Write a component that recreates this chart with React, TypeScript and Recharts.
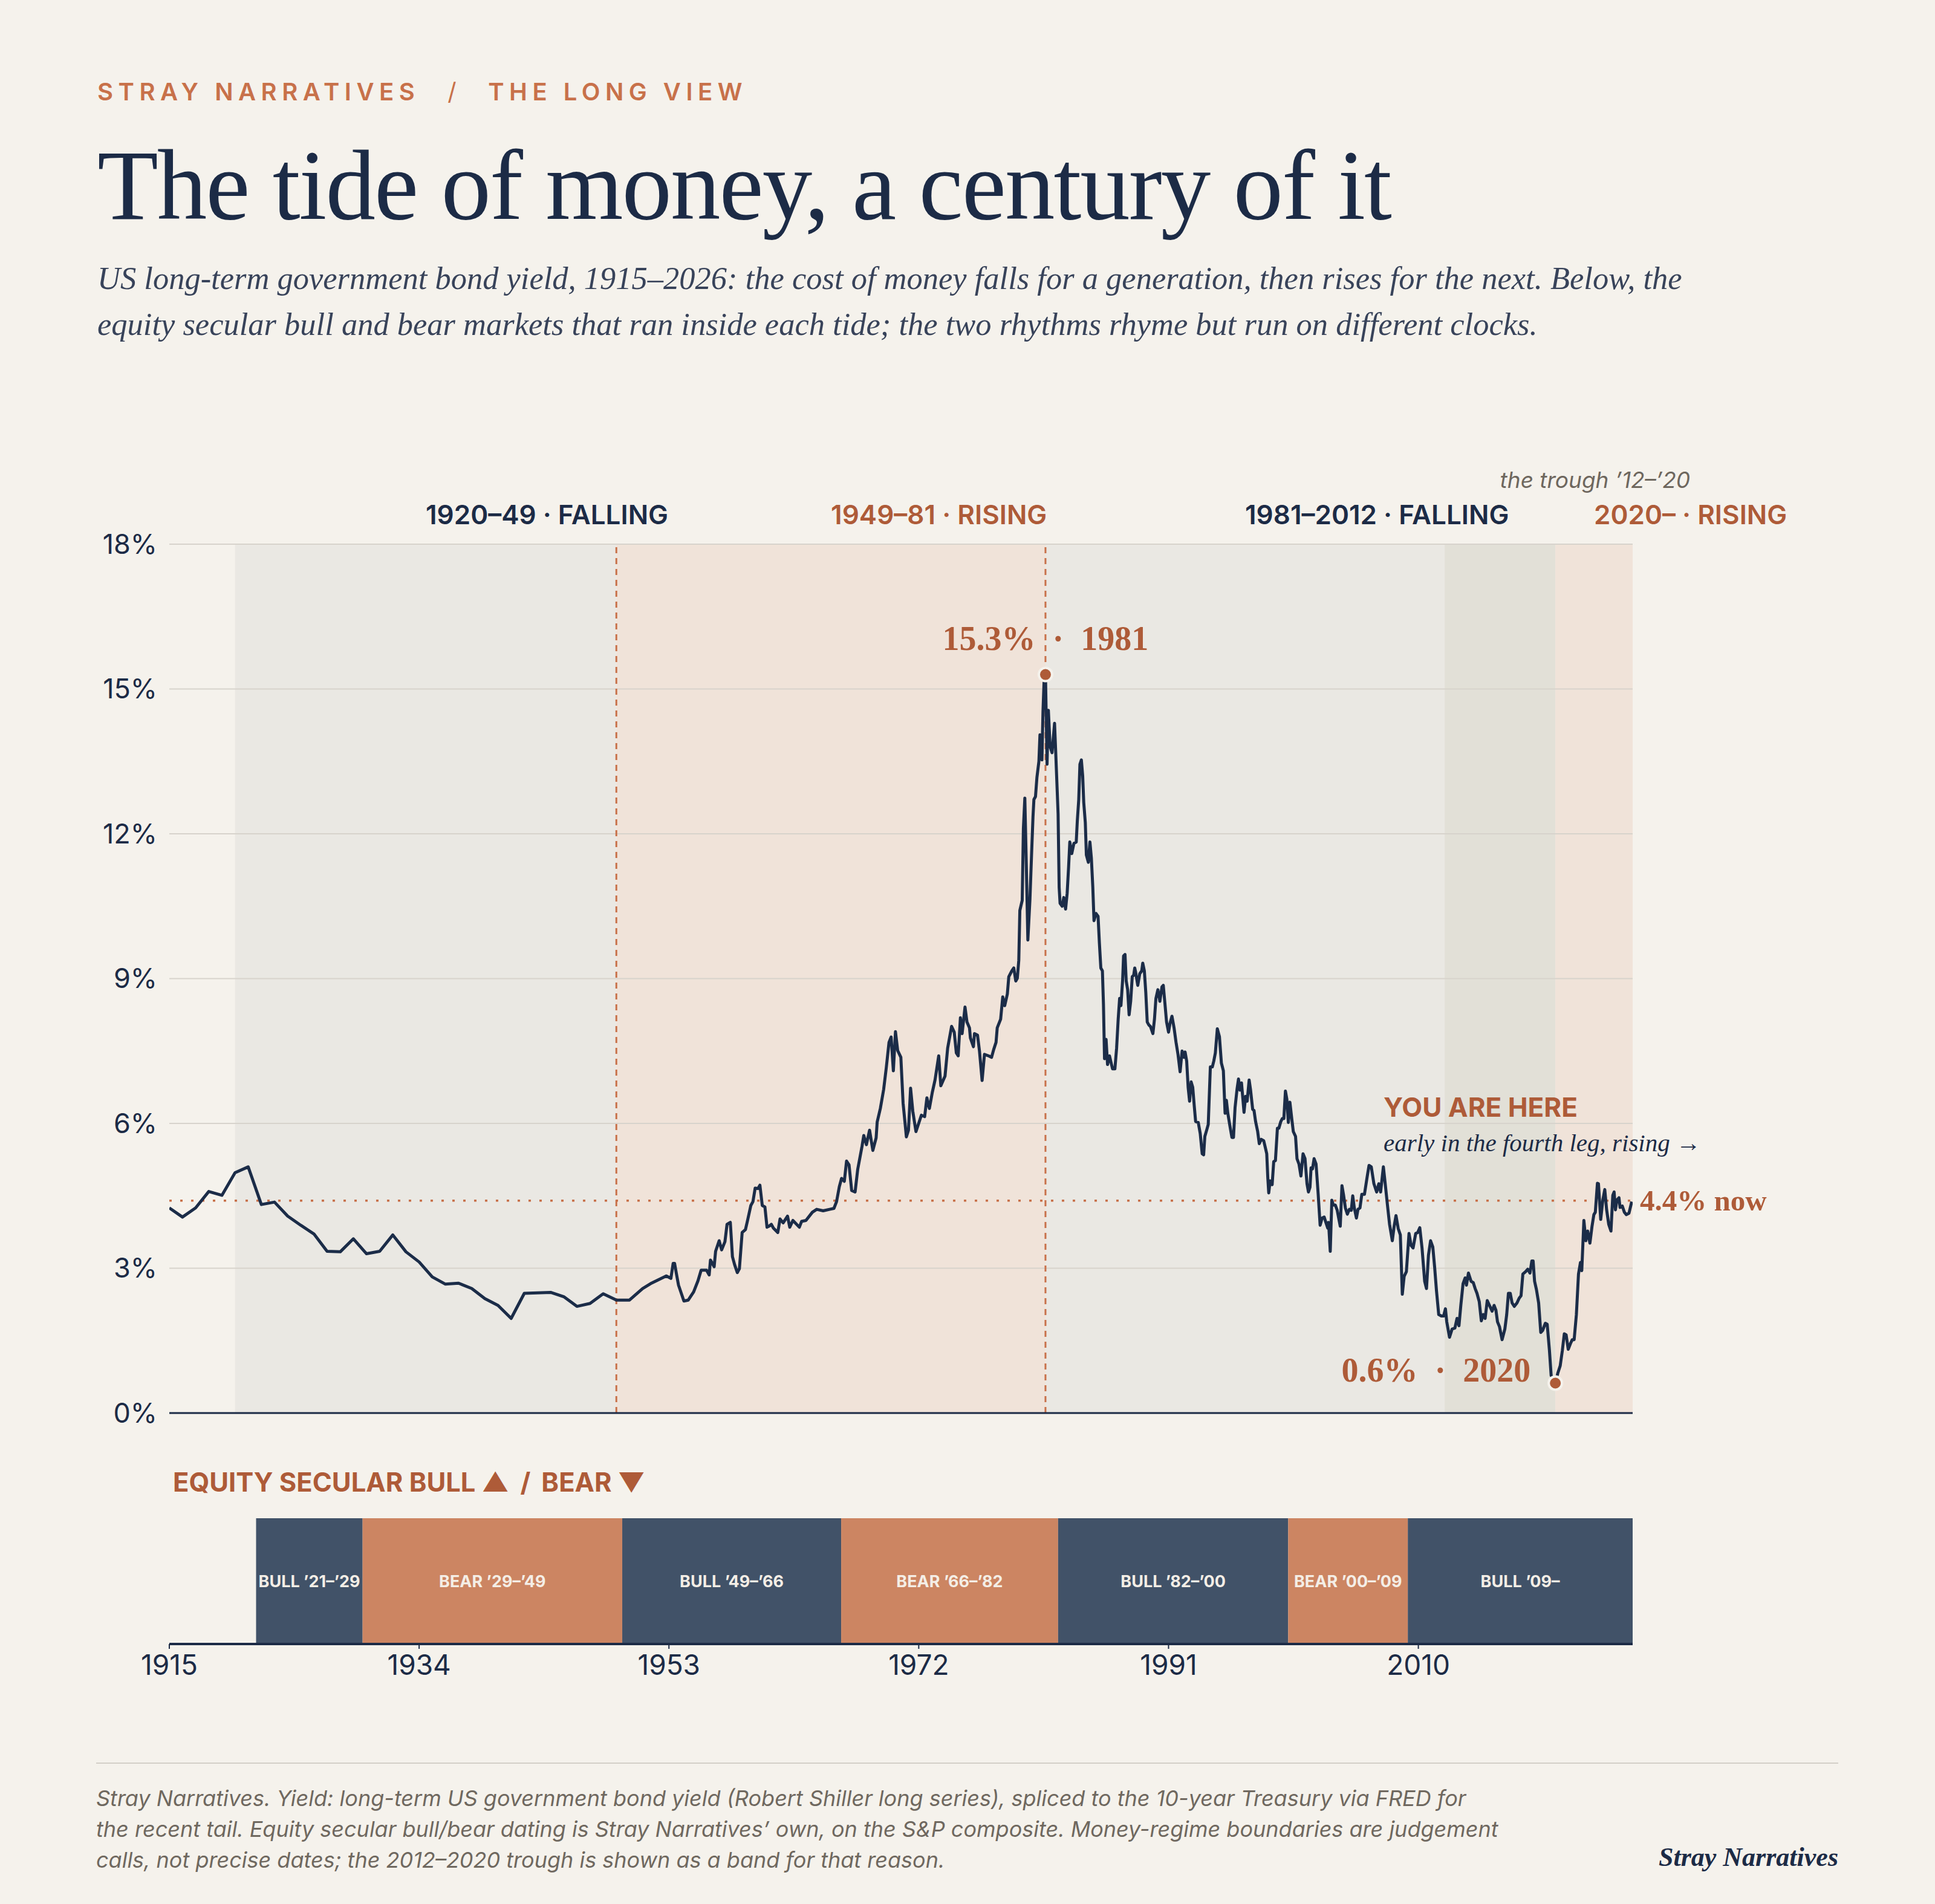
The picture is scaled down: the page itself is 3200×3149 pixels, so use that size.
import React from 'react';
import {
  ComposedChart,
  Bar,
  Line,
  XAxis,
  YAxis,
  ReferenceArea,
  ReferenceLine,
  ReferenceDot,
} from 'recharts';

// long-term US government bond yield, %
const yield1915to1952: [number, number][] = [
  [1915, 4.25], [1916, 4.06], [1917, 4.25], [1918, 4.59], [1919, 4.51], [1920, 4.98],
  [1921, 5.1], [1922, 4.32], [1923, 4.37], [1924, 4.08], [1925, 3.89], [1926, 3.71],
  [1927, 3.35], [1928, 3.34], [1929, 3.61], [1930, 3.3], [1931, 3.35], [1932, 3.69],
  [1933, 3.34], [1934, 3.13], [1935, 2.82], [1936, 2.67], [1937, 2.69], [1938, 2.58],
  [1939, 2.37], [1940, 2.23], [1941, 1.96], [1942, 2.48], [1943, 2.49], [1944, 2.5],
  [1945, 2.41], [1946, 2.21], [1947, 2.27], [1948, 2.47], [1949, 2.34], [1950, 2.34],
  [1951, 2.58], [1951.6, 2.68], [1952.8, 2.84],
];

const yield1953to1973: [number, number][] = [
  [1953.15, 2.79], [1953.32, 3.1], [1953.43, 3.1], [1953.56, 2.9], [1953.73, 2.65], [1954.14, 2.32],
  [1954.47, 2.34], [1954.88, 2.51], [1955.21, 2.74], [1955.45, 2.96], [1955.86, 2.96], [1956.06, 2.86],
  [1956.16, 3.17], [1956.44, 3.03], [1956.55, 3.35], [1956.82, 3.57], [1957.01, 3.38], [1957.26, 3.55],
  [1957.42, 3.91], [1957.67, 3.95], [1957.83, 3.24], [1958.0, 3.07], [1958.2, 2.91], [1958.36, 2.99],
  [1958.57, 3.74], [1958.82, 3.8], [1958.98, 3.99], [1959.23, 4.3], [1959.39, 4.38], [1959.56, 4.66],
  [1959.77, 4.65], [1959.92, 4.72], [1960.1, 4.3], [1960.3, 4.27], [1960.46, 3.85], [1960.66, 3.88],
  [1960.79, 3.91], [1960.95, 3.83], [1961.28, 3.74], [1961.45, 4.02], [1961.69, 3.94], [1962.02, 4.08],
  [1962.19, 3.85], [1962.43, 3.99], [1962.92, 3.85], [1963.09, 3.97], [1963.42, 3.99], [1963.91, 4.16],
  [1964.24, 4.22], [1964.73, 4.19], [1965.22, 4.22], [1965.55, 4.24], [1965.75, 4.38], [1965.96, 4.69],
  [1966.13, 4.86], [1966.34, 4.8], [1966.51, 5.22], [1966.7, 5.14], [1966.9, 4.61], [1967.16, 4.58],
  [1967.36, 5.05], [1967.69, 5.53], [1967.82, 5.75], [1968.02, 5.56], [1968.26, 5.86], [1968.51, 5.44],
  [1968.76, 5.7], [1968.84, 6.03], [1969.08, 6.31], [1969.33, 6.7], [1969.53, 7.15], [1969.74, 7.68],
  [1969.9, 7.79], [1970.07, 7.09], [1970.23, 7.9], [1970.4, 7.51], [1970.64, 7.37], [1970.81, 6.42],
  [1971.06, 5.72], [1971.22, 5.86], [1971.38, 6.73], [1971.55, 6.25], [1971.79, 5.83], [1972.2, 6.17],
  [1972.45, 6.14], [1972.62, 6.53], [1972.81, 6.31], [1973.03, 6.64], [1973.24, 6.9], [1973.52, 7.4],
  [1973.68, 6.78],
];

const yield1974to1992: [number, number][] = [
  [1974.0, 6.98], [1974.2, 7.56], [1974.5, 8.01], [1974.7, 7.89], [1974.86, 7.46], [1975.0, 7.4],
  [1975.17, 8.19], [1975.3, 7.86], [1975.52, 8.41], [1975.67, 8.1], [1975.86, 7.98], [1975.93, 7.77],
  [1976.16, 7.59], [1976.24, 7.86], [1976.47, 7.83], [1976.62, 7.5], [1976.82, 6.89], [1977.0, 7.43],
  [1977.31, 7.4], [1977.54, 7.37], [1977.7, 7.53], [1977.88, 7.68], [1977.97, 7.98], [1978.23, 8.16],
  [1978.39, 8.62], [1978.54, 8.44], [1978.74, 8.68], [1978.85, 9.04], [1979.08, 9.16], [1979.23, 9.22],
  [1979.38, 8.95], [1979.5, 9.01], [1979.61, 9.38], [1979.69, 10.41], [1979.87, 10.62], [1979.96, 12.11],
  [1980.07, 12.74], [1980.18, 11.38], [1980.3, 9.8], [1980.46, 10.65], [1980.58, 11.56], [1980.69, 12.35],
  [1980.76, 12.71], [1980.88, 12.77], [1980.99, 13.17], [1981.14, 13.5], [1981.22, 14.05], [1981.37, 13.53],
  [1981.45, 14.53], [1981.53, 15.14], [1981.64, 15.3], [1981.76, 13.44], [1981.86, 14.56], [1981.99, 13.81],
  [1982.14, 13.68], [1982.33, 14.29], [1982.42, 13.68], [1982.6, 12.41], [1982.68, 10.89], [1982.75, 10.56],
  [1982.91, 10.5], [1983.03, 10.68], [1983.17, 10.44], [1983.29, 10.77], [1983.4, 11.32], [1983.49, 11.83],
  [1983.64, 11.59], [1983.8, 11.8], [1983.98, 11.83], [1984.06, 12.26], [1984.17, 12.71], [1984.26, 13.44],
  [1984.37, 13.53], [1984.47, 13.2], [1984.55, 12.65], [1984.67, 12.23], [1984.75, 11.56], [1984.9, 11.41],
  [1985.02, 11.83], [1985.13, 11.5], [1985.24, 10.89], [1985.33, 10.2], [1985.48, 10.35], [1985.64, 10.29],
  [1985.74, 9.74], [1985.85, 9.22], [1985.97, 9.16], [1986.05, 8.47], [1986.13, 7.34], [1986.25, 7.74],
  [1986.36, 7.22], [1986.51, 7.4], [1986.74, 7.13], [1986.92, 7.13], [1987.05, 7.56], [1987.17, 8.16],
  [1987.28, 8.59], [1987.38, 8.44], [1987.51, 8.98], [1987.58, 9.47], [1987.69, 9.5], [1987.78, 8.95],
  [1987.89, 8.77], [1988.0, 8.25], [1988.12, 8.53], [1988.24, 9.04], [1988.35, 9.07], [1988.43, 9.22],
  [1988.5, 9.13], [1988.66, 8.86], [1988.81, 9.1], [1988.96, 9.16], [1989.04, 9.32], [1989.16, 9.16],
  [1989.27, 8.71], [1989.38, 8.1], [1989.5, 8.04], [1989.62, 8.01], [1989.81, 7.86], [1989.93, 8.16],
  [1990.04, 8.59], [1990.19, 8.77], [1990.34, 8.53], [1990.5, 8.83], [1990.6, 8.86], [1990.73, 8.47],
  [1990.85, 8.1], [1991.0, 7.89], [1991.11, 8.07], [1991.26, 8.22], [1991.42, 7.98], [1991.57, 7.68],
  [1991.72, 7.43], [1991.88, 7.07], [1992.03, 7.5], [1992.18, 7.37],
];

const yield1992to2005: [number, number][] = [
  [1992.26, 7.48], [1992.38, 7.29], [1992.49, 6.75], [1992.6, 6.46], [1992.72, 6.86], [1992.84, 6.75],
  [1992.95, 6.38], [1993.06, 6.04], [1993.26, 6.02], [1993.41, 5.79], [1993.56, 5.37], [1993.67, 5.35],
  [1993.76, 5.73], [1993.91, 5.87], [1994.02, 5.98], [1994.18, 7.17], [1994.33, 7.17], [1994.44, 7.29],
  [1994.56, 7.46], [1994.71, 7.96], [1994.87, 7.8], [1995.02, 7.25], [1995.17, 7.09], [1995.3, 6.21],
  [1995.4, 6.48], [1995.51, 6.21], [1995.66, 5.96], [1995.82, 5.71], [1995.94, 5.71], [1996.06, 6.33],
  [1996.21, 6.71], [1996.32, 6.92], [1996.43, 6.69], [1996.55, 6.84], [1996.74, 6.23], [1996.86, 6.56],
  [1996.98, 6.46], [1997.13, 6.9], [1997.24, 6.69], [1997.4, 6.29], [1997.5, 6.27], [1997.62, 6.04],
  [1997.78, 5.83], [1997.9, 5.58], [1998.05, 5.67], [1998.24, 5.64], [1998.36, 5.5], [1998.47, 5.37],
  [1998.55, 4.87], [1998.62, 4.56], [1998.73, 4.81], [1998.88, 4.73], [1999.0, 5.21], [1999.13, 5.23],
  [1999.28, 5.9], [1999.39, 5.9], [1999.54, 6.04], [1999.65, 6.1], [1999.77, 6.1], [1999.89, 6.67],
  [2000.0, 6.5], [2000.11, 6.02], [2000.23, 6.44], [2000.38, 6.08], [2000.49, 5.83], [2000.66, 5.73],
  [2000.77, 5.27], [2000.92, 5.16], [2001.07, 4.91], [2001.23, 5.37], [2001.38, 5.27], [2001.53, 4.75],
  [2001.64, 4.58], [2001.76, 4.68], [2001.84, 5.08], [2001.95, 5.06], [2002.07, 5.27], [2002.22, 5.16],
  [2002.38, 4.54], [2002.53, 3.89], [2002.68, 4.04], [2002.84, 4.06], [2002.99, 3.93], [2003.11, 3.83],
  [2003.17, 3.95], [2003.3, 3.35], [2003.42, 4.41], [2003.53, 4.31], [2003.68, 4.31], [2003.83, 4.2],
  [2003.94, 4.04], [2004.06, 3.87], [2004.19, 4.71], [2004.31, 4.52], [2004.45, 4.25], [2004.6, 4.12],
  [2004.75, 4.22], [2004.9, 4.2], [2005.01, 4.5], [2005.13, 4.25], [2005.29, 4.04], [2005.41, 4.22],
  [2005.56, 4.25],
];

const yield2005to2026: [number, number][] = [
  [2005.7, 4.53], [2005.9, 4.53], [2006.11, 4.9], [2006.25, 5.13], [2006.42, 5.1], [2006.62, 4.75],
  [2006.83, 4.58], [2006.99, 4.75], [2007.13, 4.58], [2007.34, 5.1], [2007.48, 4.75], [2007.65, 4.31],
  [2007.81, 3.91], [2008.02, 3.57], [2008.16, 3.87], [2008.3, 4.09], [2008.47, 3.82], [2008.63, 3.69],
  [2008.78, 2.46], [2008.92, 2.83], [2009.09, 2.93], [2009.29, 3.72], [2009.45, 3.47], [2009.6, 3.42],
  [2009.8, 3.72], [2009.95, 3.74], [2010.11, 3.84], [2010.28, 3.42], [2010.48, 2.73], [2010.62, 2.58],
  [2010.77, 3.27], [2010.93, 3.57], [2011.1, 3.44], [2011.24, 3.02], [2011.38, 2.53], [2011.55, 2.04],
  [2011.75, 2.01], [2011.92, 2.01], [2012.06, 2.16], [2012.16, 1.89], [2012.37, 1.57], [2012.57, 1.74],
  [2012.78, 1.76], [2012.94, 1.96], [2013.09, 1.81], [2013.23, 2.23], [2013.4, 2.68], [2013.56, 2.8],
  [2013.66, 2.65], [2013.81, 2.9], [2014.01, 2.73], [2014.18, 2.7], [2014.32, 2.58], [2014.46, 2.48],
  [2014.63, 2.31], [2014.79, 1.91], [2014.94, 2.04], [2015.08, 1.96], [2015.24, 2.33], [2015.41, 2.23],
  [2015.61, 2.11], [2015.76, 2.23], [2015.9, 2.13], [2016.02, 1.89], [2016.17, 1.79], [2016.37, 1.52],
  [2016.58, 1.74], [2016.72, 2.04], [2016.85, 2.48], [2016.99, 2.48], [2017.13, 2.28], [2017.3, 2.21],
  [2017.5, 2.28], [2017.67, 2.38], [2017.81, 2.43], [2017.95, 2.88], [2018.16, 2.93], [2018.32, 2.98],
  [2018.49, 2.9], [2018.63, 3.15], [2018.73, 3.15], [2018.84, 2.73], [2018.98, 2.56], [2019.15, 2.28],
  [2019.31, 1.67], [2019.45, 1.71], [2019.66, 1.86], [2019.8, 1.84], [2019.97, 1.3], [2020.1, 0.78],
  [2020.42, 0.62], [2020.6, 0.82], [2020.79, 0.98], [2020.95, 1.29], [2021.1, 1.64], [2021.24, 1.62],
  [2021.4, 1.32], [2021.57, 1.44], [2021.71, 1.52], [2021.85, 1.52], [2022.02, 2.04], [2022.18, 2.88],
  [2022.33, 3.12], [2022.43, 2.95], [2022.59, 3.99], [2022.74, 3.57], [2022.88, 3.77], [2023.05, 3.52],
  [2023.21, 3.87], [2023.35, 4.11], [2023.46, 4.16], [2023.62, 4.76], [2023.7, 4.75], [2023.87, 4.01],
  [2024.03, 4.41], [2024.18, 4.63], [2024.32, 4.21], [2024.48, 3.91], [2024.65, 3.77], [2024.79, 4.51],
  [2024.89, 4.58], [2024.99, 4.21], [2025.1, 4.41], [2025.26, 4.46], [2025.34, 4.26], [2025.51, 4.29],
  [2025.67, 4.16], [2025.82, 4.11], [2026.02, 4.14], [2026.23, 4.38],
];

const yTicks = [0, 3, 6, 9, 12, 15, 18];
const xTicks = [1915, 1934, 1953, 1972, 1991, 2010];
const yearDomain: [number, number] = [1915, 2026.3];

// money regimes (bands over the yield line)
const moneyRegimes = [
  { from: 1920, to: 1949, label: '1920–49 · FALLING', kind: 'falling' },
  { from: 1949, to: 1981.64, label: '1949–81 · RISING', kind: 'rising' },
  { from: 1981.64, to: 2012, label: '1981–2012 · FALLING', kind: 'falling' },
  { from: 2012, to: 2020.42, label: 'the trough ’12–’20', kind: 'trough' },
  { from: 2020.42, to: 2026.3, label: '2020– · RISING', kind: 'rising' },
];
const turningPoints = [1949, 1981.64];

const peak = { year: 1981.64, value: 15.3, label: '15.3%\u2002·\u20021981' };
const trough = { year: 2020.42, value: 0.62, label: '0.6%\u2002·\u20022020' };
const nowYield = 4.4;

// equity secular bull / bear markets
const equityRegimes = [
  { start: 1921.6, end: 1929.7, label: 'BULL ’21–’29', kind: 'bull' },
  { start: 1929.7, end: 1949.45, label: 'BEAR ’29–’49', kind: 'bear' },
  { start: 1949.45, end: 1966.1, label: 'BULL ’49–’66', kind: 'bull' },
  { start: 1966.1, end: 1982.6, label: 'BEAR ’66–’82', kind: 'bear' },
  { start: 1982.6, end: 2000.1, label: 'BULL ’82–’00', kind: 'bull' },
  { start: 2000.1, end: 2009.2, label: 'BEAR ’00–’09', kind: 'bear' },
  { start: 2009.2, end: 2026.3, label: 'BULL ’09–', kind: 'bull' },
];

const SANS = 'Inter, "Noto Sans", sans-serif';
const SERIF = '"Liberation Serif", "DejaVu Serif", serif';
const BG = '#f5f2ec';
const NAVY = '#1c2b46';
const LINE = '#1b2c48';
const RUST = '#ae5b38';
const ACCENT = '#c8714a';
const GRID = '#d7d3cc';

const bandFill: Record<string, string> = {
  falling: '#eae8e3',
  rising: '#f0e3d9',
  trough: '#e2e0d7',
};
const equityFill: Record<string, string> = { bull: '#415268', bear: '#cc8562' };

const yieldData = [
  ...yield1915to1952,
  ...yield1953to1973,
  ...yield1974to1992,
  ...yield1992to2005,
  ...yield2005to2026,
].map(([year, y]) => ({ year, y }));

// one timeline row: an invisible lead-in up to the first regime, then each regime's span
const equityRow: Record<string, number | string> = { lane: 'equity', lead: equityRegimes[0].start };
equityRegimes.forEach((r, i) => {
  equityRow[`r${i}`] = r.end - r.start;
});

const regimeLabel = (text: string, kind: string) => (props: any) => {
  const vb = props.viewBox || {};
  const isTrough = kind === 'trough';
  return (
    <text
      x={vb.x + vb.width / 2}
      y={vb.y - (isTrough ? 107 : 49)}
      dominantBaseline="central"
      fill={isTrough ? '#6e675e' : kind === 'rising' ? RUST : NAVY}
      fontFamily={SANS}
      fontSize={isTrough ? 37 : 44}
      fontWeight={isTrough ? 400 : 600}
      fontStyle={isTrough ? 'italic' : 'normal'}
    >
      {text}
    </text>
  );
};

const dotLabel = (text: string, where: 'above' | 'left') => (props: any) => {
  const vb = props.viewBox || {};
  const cx = vb.x + vb.width / 2;
  const cy = vb.y + vb.height / 2;
  return (
    <text
      x={where === 'above' ? cx : cx - 41}
      y={where === 'above' ? cy - 60 : cy - 22}
      textAnchor={where === 'above' ? 'middle' : 'end'}
      dominantBaseline="central"
      fill={RUST}
      fontFamily={SERIF}
      fontWeight={700}
      fontSize={56}
    >
      {text}
    </text>
  );
};

const nowLabel = (props: any) => {
  const vb = props.viewBox || {};
  return (
    <text
      x={vb.x + vb.width + 12}
      y={vb.y}
      dominantBaseline="central"
      fill={RUST}
      fontFamily={SERIF}
      fontWeight={700}
      fontSize={49}
    >
      {`${nowYield}% now`}
    </text>
  );
};

const equityLabel = (text: string) => (props: any) => {
  const x = props.x ?? props.viewBox?.x ?? 0;
  const y = props.y ?? props.viewBox?.y ?? 0;
  const w = props.width ?? props.viewBox?.width ?? 0;
  const h = props.height ?? props.viewBox?.height ?? 0;
  return (
    <text
      x={x + w / 2}
      y={y + h / 2}
      textAnchor="middle"
      dominantBaseline="central"
      fill="#f4eee6"
      fontFamily={SANS}
      fontWeight={700}
      fontSize={27}
    >
      {text}
    </text>
  );
};

const footerLines = [
  'Stray Narratives. Yield: long-term US government bond yield (Robert Shiller long series), spliced to the 10-year Treasury via FRED for',
  'the recent tail. Equity secular bull/bear dating is Stray Narratives’ own, on the S&P composite. Money-regime boundaries are judgement',
  'calls, not precise dates; the 2012–2020 trough is shown as a band for that reason.',
];

export default function App() {
  return (
    <div
      style={{
        position: 'absolute',
        left: 0,
        top: 0,
        width: 3200,
        height: 3149,
        background: BG,
        overflow: 'hidden',
      }}
    >
      <div style={{ position: 'absolute', left: 0, top: 0 }}>
        <ComposedChart
          width={3200}
          height={2400}
          data={yieldData}
          margin={{ top: 900, right: 500, bottom: 63, left: 180 }}
        >
          <XAxis type="number" dataKey="year" domain={yearDomain} hide allowDataOverflow />
          <YAxis
            type="number"
            domain={[0, 18]}
            ticks={yTicks}
            interval={0}
            width={100}
            axisLine={false}
            tickLine={false}
            tickSize={6}
            tickMargin={14}
            tickFormatter={(v) => `${v}%`}
            tick={{ fill: NAVY, fontSize: 45, fontFamily: SANS }}
          />
          {moneyRegimes.map((r) => (
            <ReferenceArea
              key={r.label}
              x1={r.from}
              x2={r.to}
              y1={0}
              y2={18}
              fill={bandFill[r.kind]}
              fillOpacity={1}
              stroke="none"
              label={regimeLabel(r.label, r.kind)}
            />
          ))}
          {yTicks
            .filter((t) => t > 0)
            .map((t) => (
              <ReferenceLine key={t} y={t} stroke={GRID} strokeWidth={2} />
            ))}
          {turningPoints.map((x) => (
            <ReferenceLine key={x} x={x} stroke={ACCENT} strokeWidth={3} strokeDasharray="10 8" />
          ))}
          <ReferenceLine
            y={nowYield}
            stroke={ACCENT}
            strokeWidth={3.5}
            strokeDasharray="4 14"
            label={nowLabel}
          />
          <ReferenceLine y={0} stroke={NAVY} strokeWidth={3} />
          <Line
            type="linear"
            dataKey="y"
            stroke={LINE}
            strokeWidth={5}
            strokeLinejoin="round"
            dot={false}
            activeDot={false}
            isAnimationActive={false}
          />
          <ReferenceDot
            x={peak.year}
            y={peak.value}
            r={11}
            fill={RUST}
            stroke={BG}
            strokeWidth={4}
            label={dotLabel(peak.label, 'above')}
          />
          <ReferenceDot
            x={trough.year}
            y={trough.value}
            r={11}
            fill={RUST}
            stroke={BG}
            strokeWidth={4}
            label={dotLabel(trough.label, 'left')}
          />
        </ComposedChart>
      </div>

      <div style={{ position: 'absolute', left: 0, top: 2511 }}>
        <ComposedChart
          width={3200}
          height={300}
          layout="vertical"
          data={[equityRow]}
          barCategoryGap={0}
          barGap={0}
          margin={{ top: 0, right: 500, bottom: 0, left: 280 }}
        >
          <XAxis
            type="number"
            domain={yearDomain}
            ticks={xTicks}
            interval={0}
            height={92}
            tickSize={8}
            tickMargin={10}
            allowDataOverflow
            axisLine={{ stroke: NAVY, strokeWidth: 4 }}
            tickLine={{ stroke: NAVY, strokeWidth: 2 }}
            tick={{ fill: NAVY, fontSize: 46, fontFamily: SANS }}
          />
          <YAxis type="category" dataKey="lane" hide />
          <Bar dataKey="lead" stackId="eq" fill="transparent" isAnimationActive={false} />
          {equityRegimes.map((r, i) => (
            <Bar
              key={r.label}
              dataKey={`r${i}`}
              stackId="eq"
              fill={equityFill[r.kind]}
              isAnimationActive={false}
              label={equityLabel(r.label)}
            />
          ))}
        </ComposedChart>
      </div>

      <svg
        width={3200}
        height={3149}
        style={{ position: 'absolute', left: 0, top: 0, pointerEvents: 'none' }}
      >
        <text x={161} y={166} fill={ACCENT} fontFamily={SANS} fontWeight={600} fontSize={40} letterSpacing={8.5}>
          <tspan>STRAY NARRATIVES</tspan>
          <tspan dx={46} fontWeight={400}>/</tspan>
          <tspan dx={44}>THE LONG VIEW</tspan>
        </text>
        <text x={161} y={362} fill={NAVY} fontFamily={SERIF} fontSize={165} letterSpacing={-2}>
          The tide of money, a century of it
        </text>
        <text x={161} y={478} fill="#38435a" fontFamily={SERIF} fontStyle="italic" fontSize={52.5}>
          US long-term government bond yield, 1915–2026: the cost of money falls for a generation, then rises for the next. Below, the
        </text>
        <text x={161} y={554} fill="#38435a" fontFamily={SERIF} fontStyle="italic" fontSize={52.5}>
          equity secular bull and bear markets that ran inside each tide; the two rhythms rhyme but run on different clocks.
        </text>

        <text x={2288} y={1847} fill={RUST} fontFamily={SANS} fontWeight={700} fontSize={44}>
          YOU ARE HERE
        </text>
        <text x={2288} y={1904} fill={NAVY} fontFamily={SERIF} fontStyle="italic" fontSize={41}>
          early in the fourth leg, rising →
        </text>

        <text x={286} y={2467} fill={RUST} fontFamily={SANS} fontWeight={700} fontSize={43.5}>
          <tspan>EQUITY SECULAR BULL</tspan>
          <tspan dx={10}>▲</tspan>
          <tspan dx={18}>/</tspan>
          <tspan dx={18}>BEAR</tspan>
          <tspan dx={10}>▼</tspan>
        </text>

        <line x1={159} x2={3040} y1={2916} y2={2916} stroke="#d3cfc7" strokeWidth={2} />
        {footerLines.map((t, i) => (
          <text
            key={i}
            x={159}
            y={2987 + i * 51}
            fill="#6f685f"
            fontFamily={SANS}
            fontStyle="italic"
            fontSize={36}
          >
            {t}
          </text>
        ))}
        <text
          x={3040}
          y={3086}
          textAnchor="end"
          fill={NAVY}
          fontFamily={SERIF}
          fontStyle="italic"
          fontWeight={700}
          fontSize={44}
        >
          Stray Narratives
        </text>
      </svg>
    </div>
  );
}
